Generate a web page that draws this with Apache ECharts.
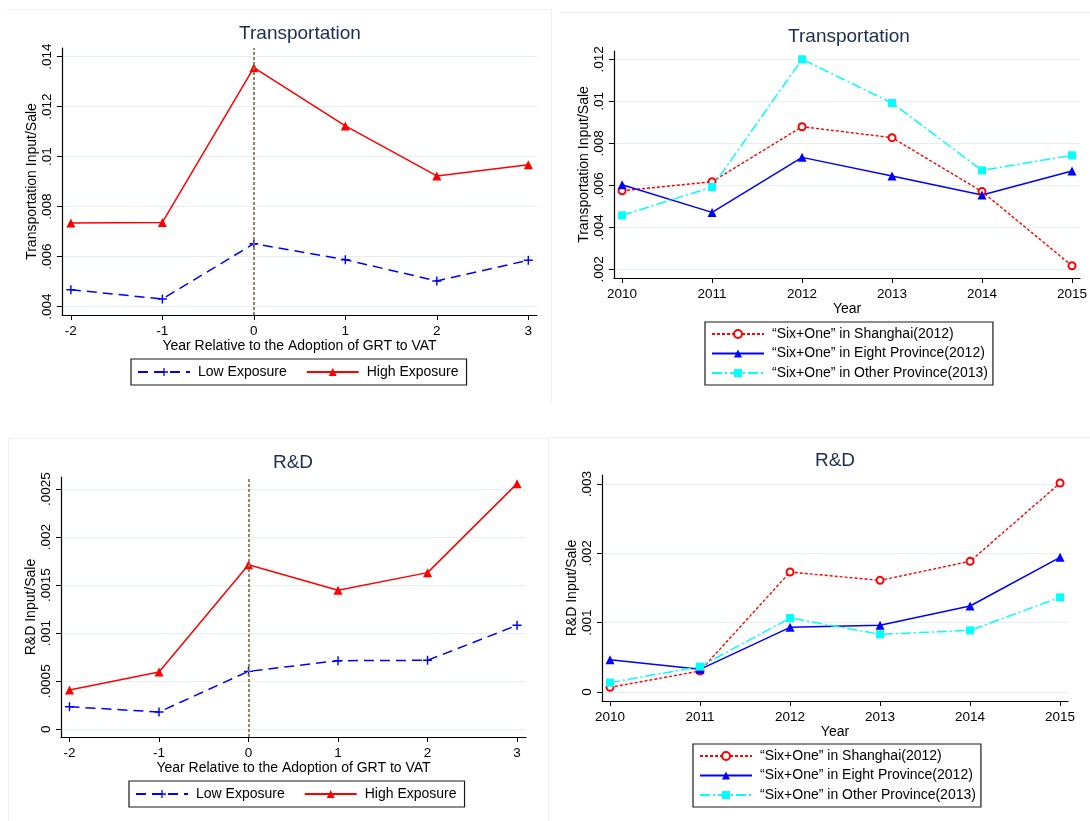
<!DOCTYPE html>
<html>
<head>
<meta charset="utf-8">
<title>Transportation and R&amp;D Input/Sale</title>
<script src="https://cdn.jsdelivr.net/npm/echarts@6/dist/echarts.min.js"></script>
<style>
  html, body { margin: 0; padding: 0; background: #ffffff; }
  #chart { width: 1090px; height: 821px; }
</style>
</head>
<body>
<div id="chart"></div>
<script>
// ---- data ----
const relYears = [-2, -1, 0, 1, 2, 3];
const years = [2010, 2011, 2012, 2013, 2014, 2015];

// Transportation input/sale by year relative to the GRT-to-VAT switch
const transLow  = [0.00468, 0.00431, 0.00652, 0.00588, 0.00503, 0.00586];
const transHigh = [0.00735, 0.00737, 0.01356, 0.01123, 0.00923, 0.00968];

// Transportation input/sale by calendar year and reform group
const transShanghai = [0.00574, 0.00617, 0.00879, 0.00827, 0.00570, 0.00217];
const transEight    = [0.00603, 0.00471, 0.00733, 0.00644, 0.00554, 0.00668];
const transOther    = [0.00457, 0.00592, 0.01200, 0.00992, 0.00671, 0.00743];

// R&D input/sale by year relative to the GRT-to-VAT switch
const rdLow  = [0.000235, 0.000180, 0.000603, 0.000714, 0.000718, 0.001082];
const rdHigh = [0.000409, 0.000596, 0.001713, 0.001446, 0.001630, 0.002556];

// R&D input/sale by calendar year and reform group
const rdShanghai = [0.000067, 0.000303, 0.001730, 0.001610, 0.001885, 0.003014];
const rdEight    = [0.000466, 0.000327, 0.000933, 0.000962, 0.001240, 0.001942];
const rdOther    = [0.000135, 0.000366, 0.001067, 0.000832, 0.000889, 0.001365];

// tick values
const transRelTicks  = [0.004, 0.006, 0.008, 0.010, 0.012, 0.014];
const transYearTicks = [0.002, 0.004, 0.006, 0.008, 0.010, 0.012];
const rdRelTicks     = [0, 0.0005, 0.001, 0.0015, 0.002, 0.0025];
const rdYearTicks    = [0, 0.001, 0.002, 0.003];

const relNames  = ['Low Exposure', 'High Exposure'];
const yearNames = ['\u201cSix+One\u201d in Shanghai(2012)',
                   '\u201cSix+One\u201d in Eight Province(2012)',
                   '\u201cSix+One\u201d in Other Province(2013)'];

const titles = ['Transportation', 'Transportation', 'R&D', 'R&D'];
const yNames = ['Transportation Input/Sale', 'Transportation Input/Sale', 'R&D Input/Sale', 'R&D Input/Sale'];
const xNames = ['Year Relative to the Adoption of GRT to VAT', 'Year',
                'Year Relative to the Adoption of GRT to VAT', 'Year'];

// ---- drawing ----
const FONT = '"Liberation Sans", Arial, Helvetica, sans-serif';
const BLACK = '#000000';
const GRID_LINE = '#e7eef0';

function pairs(xs, ys) { return xs.map((x, i) => [x, ys[i]]); }

// Stata-style number labels: ".004", ".01", "0"
function fmtNum(v) {
  const s = String(+v.toFixed(6));
  return s.replace(/^0\./, '.').replace(/^-0\./, '-.');
}

const PLUS = 'path://M4.2,0H5.8V4.2H10V5.8H5.8V10H4.2V5.8H0V4.2H4.2Z';

const styles = {
  low:      { color: '#0000ff', type: [10, 6],        width: 1.5, symbol: PLUS,          size: 9 },
  high:     { color: '#ff0000', type: 'solid',        width: 1.5, symbol: 'triangle',    size: 9 },
  shanghai: { color: '#ff0000', type: [3, 2],         width: 1.4, symbol: 'emptyCircle', size: 7 },
  eight:    { color: '#0000ff', type: 'solid',        width: 1.5, symbol: 'triangle',    size: 9 },
  other:    { color: '#00ffff', type: [10, 3, 2, 3],  width: 1.5, symbol: 'rect',        size: 8 }
};

function lineSeries(name, idx, data, st, extra) {
  return Object.assign({
    type: 'line',
    name: name,
    xAxisIndex: idx,
    yAxisIndex: idx,
    data: data,
    symbol: st.symbol,
    symbolSize: st.size,
    showAllSymbol: true,
    color: st.color,
    lineStyle: { color: st.color, width: st.width, type: st.type },
    itemStyle: { color: st.color, borderColor: st.color, borderWidth: st.symbol === 'emptyCircle' ? 1.4 : 0 },
    emphasis: { disabled: true },
    z: 3
  }, extra || {});
}

const eventLine = {
  symbol: 'none',
  silent: true,
  label: { show: false },
  lineStyle: { color: '#8a7a55', width: 1.8, type: [3, 2] },
  data: [{ xAxis: 0 }]
};

const grids = [
  { left: 62,  top: 48,  width: 475, height: 267 },
  { left: 614, top: 51,  width: 470, height: 227 },
  { left: 61,  top: 477, width: 465, height: 260 },
  { left: 602, top: 475, width: 466, height: 226 }
];

const xRanges = [[-2.097, 3.095], [2009.91, 2015.09], [-2.095, 3.10], [2009.911, 2015.088]];
const yRanges = [[0.003668, 0.014348], [0.001586, 0.012395], [-0.00008, 0.002625], [-0.00013, 0.00313]];
const xTicks = [relYears, years, relYears, years];
const yTicks = [transRelTicks, transYearTicks, rdRelTicks, rdYearTicks];

const xAxes = grids.map((g, i) => ({
  type: 'value',
  gridIndex: i,
  min: xRanges[i][0],
  max: xRanges[i][1],
  name: xNames[i],
  nameLocation: 'middle',
  nameGap: 23,
  nameTextStyle: { fontFamily: FONT, fontSize: 14, color: BLACK },
  axisLine: { show: true, onZero: false, lineStyle: { color: BLACK, width: 1.2 } },
  axisTick: { show: true, inside: false, length: 5, customValues: xTicks[i], lineStyle: { color: BLACK, width: 1 } },
  axisLabel: { customValues: xTicks[i], margin: 9, fontFamily: FONT, fontSize: 13.5, color: BLACK,
               formatter: v => String(v) },
  splitLine: { show: false }
}));

const yAxes = grids.map((g, i) => ({
  type: 'value',
  gridIndex: i,
  min: yRanges[i][0],
  max: yRanges[i][1],
  name: yNames[i],
  nameLocation: 'middle',
  nameGap: 23,
  nameRotate: 90,
  nameTextStyle: { fontFamily: FONT, fontSize: 14, color: BLACK },
  axisLine: { show: true, onZero: false, lineStyle: { color: BLACK, width: 1.2 } },
  axisTick: { show: true, inside: false, length: 5, customValues: yTicks[i], lineStyle: { color: BLACK, width: 1 } },
  axisLabel: { customValues: yTicks[i], rotate: 90, margin: 8, fontFamily: FONT, fontSize: 13.5, color: BLACK,
               formatter: v => fmtNum(v) },
  splitLine: { show: true, customValues: yTicks[i], lineStyle: { color: GRID_LINE, width: 1 } }
}));

const titleCenters = [[300, 24], [849, 27], [293, 453], [835, 451]];
const titleOpts = titles.map((t, i) => ({
  text: t,
  left: titleCenters[i][0],
  top: titleCenters[i][1],
  textAlign: 'center',
  padding: 0,
  textStyle: { fontFamily: FONT, fontSize: 19, fontWeight: 'normal', color: '#1c2c4e' }
}));

function legendBox(names, left, top, vertical) {
  return {
    data: names,
    left: left,
    top: top,
    orient: vertical ? 'vertical' : 'horizontal',
    align: 'left',
    itemWidth: 52,
    itemHeight: 10,
    itemGap: vertical ? 5.5 : 19,
    padding: vertical ? [5, 5, 5, 6] : [6, 8, 6, 6],
    borderColor: '#1a1a1a',
    borderWidth: 1.2,
    borderRadius: 0,
    selectedMode: false,
    textStyle: { fontFamily: FONT, fontSize: 14, color: BLACK, padding: [0, 0, 0, 3] }
  };
}

const faint = '#eef0f1';
function seg(x1, y1, x2, y2) {
  return { type: 'line', silent: true, shape: { x1, y1, x2, y2 }, style: { stroke: faint, lineWidth: 1 }, z: -1 };
}

const option = {
  animation: false,
  backgroundColor: '#ffffff',
  title: titleOpts,
  grid: grids,
  xAxis: xAxes,
  yAxis: yAxes,
  legend: [
    legendBox(relNames, 131, 359, false),
    legendBox(yearNames, 705, 322, true),
    legendBox(relNames, 129, 781, false),
    legendBox(yearNames, 693, 744, true)
  ],
  graphic: [
    seg(7, 9.5, 552, 9.5),
    seg(551.5, 9.5, 551.5, 403),
    seg(560, 12.5, 1090, 12.5),
    seg(8, 438.5, 548, 438.5),
    seg(8.5, 438.5, 8.5, 821),
    seg(548.5, 437.5, 1090, 437.5),
    seg(548.5, 437.5, 548.5, 821)
  ],
  series: [
    lineSeries(relNames[0], 0, pairs(relYears, transLow), styles.low),
    lineSeries(relNames[1], 0, pairs(relYears, transHigh), styles.high, { markLine: eventLine }),

    lineSeries(yearNames[0], 1, pairs(years, transShanghai), styles.shanghai),
    lineSeries(yearNames[1], 1, pairs(years, transEight), styles.eight),
    lineSeries(yearNames[2], 1, pairs(years, transOther), styles.other),

    lineSeries(relNames[0], 2, pairs(relYears, rdLow), styles.low),
    lineSeries(relNames[1], 2, pairs(relYears, rdHigh), styles.high, { markLine: eventLine }),

    lineSeries(yearNames[0], 3, pairs(years, rdShanghai), styles.shanghai),
    lineSeries(yearNames[1], 3, pairs(years, rdEight), styles.eight),
    lineSeries(yearNames[2], 3, pairs(years, rdOther), styles.other)
  ]
};

const chart = echarts.init(document.getElementById('chart'), null, { renderer: 'canvas' });
chart.setOption(option);
</script>
</body>
</html>
